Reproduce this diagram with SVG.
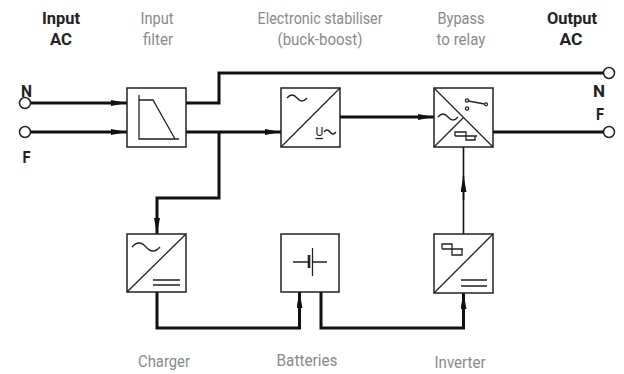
<svg xmlns="http://www.w3.org/2000/svg" width="624" height="374" viewBox="0 0 624 374">
<defs>
<style>
.lbl{font-family:Roboto,"Liberation Sans",sans-serif;font-size:16px;fill:#8a8a8a;text-anchor:middle}
.bold{font-family:Roboto,"Liberation Sans",sans-serif;font-size:16px;font-weight:bold;fill:#222;text-anchor:middle}
.box{fill:#fff;stroke:#222;stroke-width:1.5}
.sym{fill:none;stroke:#222;stroke-width:1.3}
.wire{fill:none;stroke:#111;stroke-width:3}
.thin{fill:none;stroke:#111;stroke-width:1.6}
.term{fill:#fff;stroke:#222;stroke-width:1.5}
</style>
<marker id="ah" viewBox="0 0 16 6" refX="16" refY="3" markerWidth="16" markerHeight="6" markerUnits="userSpaceOnUse" orient="auto">
<path d="M0,0 L16,3 L0,6 Z" fill="#111"/>
</marker>
</defs>

<g id="labels">
<text class="bold" x="61" y="24" textLength="38" lengthAdjust="spacingAndGlyphs">Input</text>
<text class="bold" x="61" y="45" textLength="22" lengthAdjust="spacingAndGlyphs">AC</text>
<text class="lbl" x="157" y="24" textLength="33" lengthAdjust="spacingAndGlyphs">Input</text>
<text class="lbl" x="158" y="45" textLength="30" lengthAdjust="spacingAndGlyphs">filter</text>
<text class="lbl" x="320" y="24" textLength="125" lengthAdjust="spacingAndGlyphs">Electronic stabiliser</text>
<text class="lbl" x="320" y="45" textLength="85" lengthAdjust="spacingAndGlyphs">(buck-boost)</text>
<text class="lbl" x="461" y="24" textLength="47" lengthAdjust="spacingAndGlyphs">Bypass</text>
<text class="lbl" x="461" y="45" textLength="49" lengthAdjust="spacingAndGlyphs">to relay</text>
<text class="bold" x="572" y="24" textLength="50" lengthAdjust="spacingAndGlyphs">Output</text>
<text class="bold" x="571" y="45" textLength="23" lengthAdjust="spacingAndGlyphs">AC</text>
<text class="lbl" x="164" y="367" textLength="52" lengthAdjust="spacingAndGlyphs">Charger</text>
<text class="lbl" x="307" y="366" textLength="61" lengthAdjust="spacingAndGlyphs">Batteries</text>
<text class="lbl" x="460" y="368" textLength="51" lengthAdjust="spacingAndGlyphs">Inverter</text>
<text class="bold" x="26.5" y="97" textLength="11" lengthAdjust="spacingAndGlyphs">N</text>
<text class="bold" x="26.5" y="163" textLength="8" lengthAdjust="spacingAndGlyphs">F</text>
<text class="bold" x="599" y="97" textLength="12" lengthAdjust="spacingAndGlyphs">N</text>
<text class="bold" x="600" y="120" textLength="8" lengthAdjust="spacingAndGlyphs">F</text>
</g>

<g id="connectors">
<path class="wire" d="M30,103 H127" marker-end="url(#ah)"/>
<path class="wire" d="M30,132 H127" marker-end="url(#ah)"/>
<path class="wire" d="M186,103 H219 V73 H603.5"/>
<path class="wire" d="M186,132 H281" marker-end="url(#ah)"/>
<path class="wire" d="M219,132 V198 H157 V234" marker-end="url(#ah)"/>
<path class="wire" d="M340,117 H434" marker-end="url(#ah)"/>
<path class="wire" d="M493,132 H603.5"/>
<path class="wire" d="M157,292 V328 H299.5 V292" marker-end="url(#ah)"/>
<path class="wire" d="M321,292 V328 H463.5 V293" marker-end="url(#ah)"/>
<path class="thin" d="M463.5,234 V147"/>
<path class="thin" d="M463.5,200 V176" marker-end="url(#ah)"/>
</g>

<g id="terminals">
<circle class="term" cx="25" cy="103" r="5.5"/>
<circle class="term" cx="25" cy="132" r="5.5"/>
<circle class="term" cx="609" cy="73" r="5.5"/>
<circle class="term" cx="609" cy="132" r="5.5"/>
</g>

<g id="filter">
<rect class="box" x="127" y="88" width="59" height="59"/>
<path class="sym" d="M139,95 V139 H179 M139,100 H153 L175,139"/>
</g>

<g id="stabiliser">
<rect class="box" x="281" y="88" width="59" height="59"/>
<path class="sym" d="M281,147 L340,88"/>
<path class="sym" d="M287,98 Q292,92 297,98 T307,98"/>
<text x="319.5" y="136" font-family="Roboto,'Liberation Sans',sans-serif" font-size="12" fill="#222" text-anchor="middle">U</text>
<path class="sym" d="M315.5,138.5 H323"/>
<path class="sym" d="M324,132 Q327,128 330,132 T336,132"/>
</g>

<g id="bypass">
<rect class="box" x="434" y="88" width="59" height="59"/>
<path class="sym" d="M434,88 L493,147 M434,147 L463.5,117.5"/>
<path class="sym" d="M438,117 Q443,111 448,117 T458,117"/>
<circle class="sym" cx="467" cy="100.5" r="1.6"/>
<circle class="sym" cx="467" cy="108.5" r="1.6"/>
<path class="sym" d="M468.5,101 L484.5,104"/>
<circle class="sym" cx="486" cy="104.3" r="1.5"/>
<path class="sym" d="M455,136 H477 M455,136 V132 H466 V140 H475 V136"/>
</g>

<g id="charger">
<rect class="box" x="127" y="234" width="59" height="58"/>
<path class="sym" d="M127,292 L186,234"/>
<path class="sym" d="M132,247 Q139,239 146,247 T160,247"/>
<path class="sym" d="M153,280 H180 M153,285 H180"/>
</g>

<g id="batteries">
<rect class="box" x="281" y="234" width="58" height="58"/>
<path class="sym" d="M293,262 H308 M313,262 H327"/>
<path d="M309,255 V268" stroke="#222" stroke-width="2.6" fill="none"/>
<path class="sym" d="M312.5,248 V276"/>
</g>

<g id="inverter">
<rect class="box" x="434" y="234" width="59" height="59"/>
<path class="sym" d="M434,293 L493,234"/>
<path class="sym" d="M442,249 H463 M442,249 V244 H452 V255 H462 V249"/>
<path class="sym" d="M461,280 H487 M461,286 H487"/>
</g>
</svg>
